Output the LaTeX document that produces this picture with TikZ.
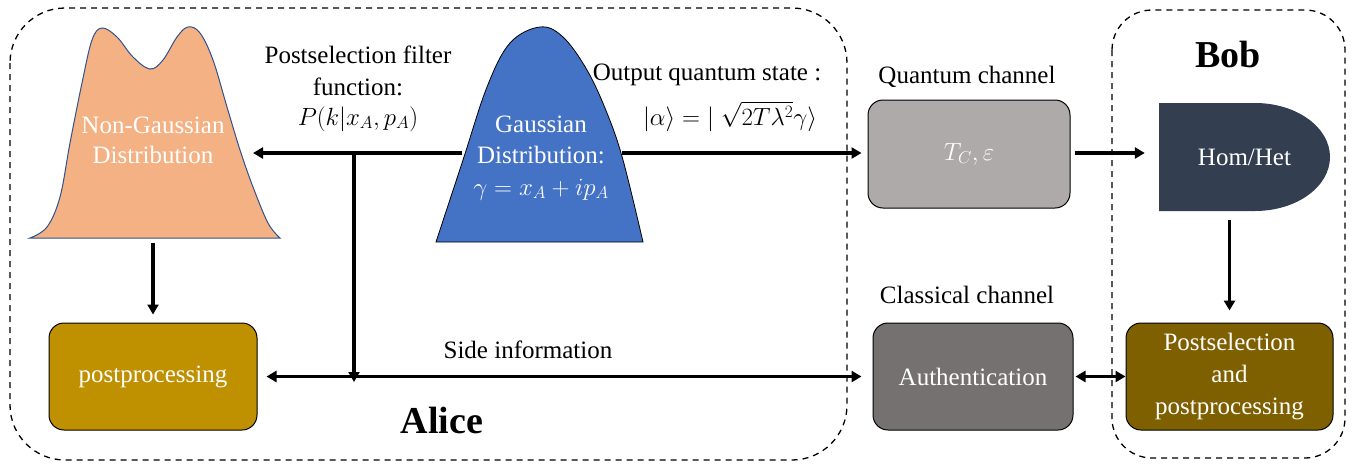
\documentclass[tikz,border=0pt]{standalone}
\usepackage{amsmath}
\usepackage{fontspec}
\setmainfont{Liberation Serif}
\usetikzlibrary{arrows.meta}

\definecolor{ngfill}{HTML}{F4B183}
\definecolor{ngline}{HTML}{2F528F}
\definecolor{gfill}{HTML}{4472C4}
\definecolor{qfill}{HTML}{AEAAAA}
\definecolor{afill}{HTML}{767171}
\definecolor{hfill}{HTML}{333F50}
\definecolor{ppfill}{HTML}{BF9000}
\definecolor{psfill}{HTML}{7F6000}

\begin{document}
\begin{tikzpicture}[x=1pt,y=-1pt,
  font=\rmfamily\fontsize{25}{31}\selectfont,
  party/.style={draw, line width=1.3pt, dash pattern=on 6pt off 5pt},
  procbox/.style={draw=black, line width=1pt, rounded corners=15pt,
    text=white, align=center, minimum height=107pt, inner sep=0pt},
  flow/.style={line width=3.5pt, -{Triangle[length=10pt,width=11pt]}},
  flowboth/.style={line width=3.5pt, {Triangle[length=10pt,width=11pt]}-{Triangle[length=10pt,width=11pt]}},
  lbl/.style={inner sep=0pt, anchor=base},
  wlbl/.style={inner sep=0pt, anchor=base, text=white},
  title/.style={inner sep=0pt, anchor=base, font=\rmfamily\fontsize{38}{44}\selectfont\bfseries}]

\useasboundingbox (0,0) rectangle (1357,466);

% party frames
\draw[party, rounded corners=55pt] (10,8) rectangle (847,460);
\draw[party, rounded corners=40pt] (1112,10) rectangle (1345,458);

% non-Gaussian distribution (two humps)
\filldraw[fill=ngfill, draw=ngline, line width=1pt]
  plot[smooth, tension=0.6] coordinates {
    (30,238) (47,227) (60,197) (70,143) (82,83) (92,40) (102,28) (117,37)
    (133,57) (150,69) (163,60) (177,37) (188,27) (200,33) (213,60) (227,107)
    (240,150) (253,187) (268,223) (280,238)} -- cycle;
% Gaussian distribution (bell)
\filldraw[fill=gfill, draw=black, line width=0.8pt]
  plot[smooth, tension=0.6] coordinates {
    (436,242) (463,160) (487,87) (510,43) (540,27) (563,37) (587,70)
    (607,113) (623,160) (643,242)} -- cycle;

\node[wlbl] (ngA) at (153,133) {Non-Gaussian};
\node[wlbl] (ngB) at (153,163) {Distribution};
\node[wlbl] (gA) at (541,132) {Gaussian};
\node[wlbl] (gB) at (541,163) {Distribution:};
\node[wlbl] (gC) at (541,195) {$\gamma = x_A + ip_A$};

% connector ends on the distribution outlines
\coordinate (gWest) at (462,153);
\coordinate (gEast) at (622,153);
\coordinate (ngEast) at (253,153);
\coordinate (ngBase) at (153,243);
\coordinate (tap) at (354,153);
\coordinate (tapEnd) at (354,380);

% labels
\node[lbl] (pf1) at (358,63) {Postselection filter};
\node[lbl] (pf2) at (358,95) {function:};
\node[lbl] (pf3) at (358,125) {$P(k|x_A,p_A)$};
\node[lbl] (out1) at (707,80) {Output quantum state :};
\node[lbl] (out2) at (730,125) {$\lvert\alpha\rangle = \lvert\;\sqrt{2T\lambda^{2}}\gamma\rangle$};
\node[lbl] (qlab) at (967,83) {Quantum channel};
\node[lbl] (clab) at (967,303) {Classical channel};
\node[lbl] (side) at (528,358) {Side information};
\node[title] (alice) at (442,433) {Alice};
\node[title] (bob) at (1228,67) {Bob};

% processing blocks
\node[procbox, fill=ppfill, minimum width=208pt] (pp) at (153,376.5) {postprocessing};
\node[procbox, fill=qfill, minimum width=202pt, minimum height=108pt] (qc) at (969,154) {$T_C,\varepsilon$};
\node[procbox, fill=afill, minimum width=200pt] (auth) at (973,376.5) {Authentication};
\node[procbox, fill=psfill, minimum width=207pt, font=\rmfamily\fontsize{25}{32}\selectfont] (ps) at (1229.5,376.5)
  {Postselection\\and\\postprocessing};

% homodyne / heterodyne detector
\node[minimum width=171pt, minimum height=108pt, inner sep=0pt] (hom) at (1244.5,157) {};
\fill[hfill] (1159,103) -- (1255,103)
  arc[start angle=-90, end angle=90, x radius=75, y radius=54] -- (1159,211) -- cycle;
\node[text=white, inner sep=0pt] (homtxt) at (hom.center) {Hom/Het};

% connectors
\draw[flow] (gWest) -- (ngEast);
\draw[flow] (tap) -- ([yshift=-2pt]tapEnd);
\draw[flowboth, shorten <=9pt, shorten >=11pt] (pp.east) -- (auth.west);
\draw[flow, shorten >=8pt] (ngBase) -- (pp.north);
\draw[flow, shorten >=6pt] (gEast) -- (gEast -| qc.west);
\draw[flow, shorten <=4pt, shorten >=14pt] (qc.east |- gEast) -- (gEast -| hom.west);
\draw[flow, shorten <=9pt, shorten >=12pt] (hom.south -| ps.north) -- (ps.north);
\draw[flowboth, shorten <=2pt] (auth.east) -- (ps.west);

\end{tikzpicture}
\end{document}
